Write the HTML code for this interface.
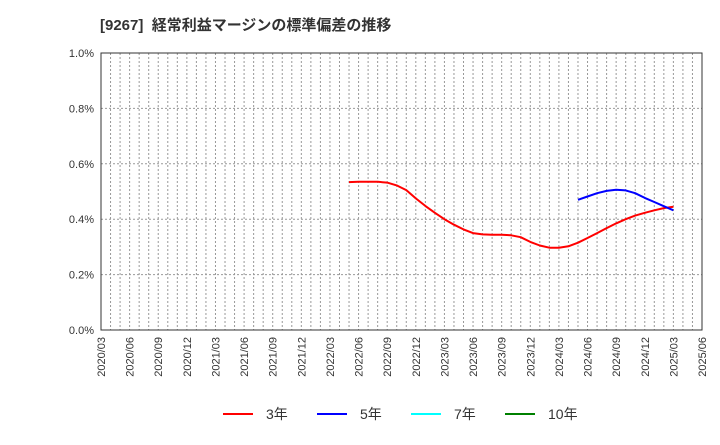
<!DOCTYPE html>
<html><head><meta charset="utf-8"><style>
body{margin:0;background:#fff;font-family:"Liberation Sans","Noto Sans CJK JP",sans-serif;}
</style></head><body>
<svg width="720" height="440" xmlns="http://www.w3.org/2000/svg" font-family="Liberation Sans, Noto Sans CJK JP, sans-serif">
<text x="100" y="30" font-size="15" font-weight="bold" fill="#333">[9267]&#160;&#160;経常利益マージンの標準偏差の推移</text>
<g id="grid"></g>
<g id="series"></g>
<g id="axes"></g>
<g id="legend"></g>
</svg>
<script>
const xLabels=["2020/03","2020/06","2020/09","2020/12","2021/03","2021/06","2021/09","2021/12","2022/03","2022/06","2022/09","2022/12","2023/03","2023/06","2023/09","2023/12","2024/03","2024/06","2024/09","2024/12","2025/03","2025/06"];
const yTicks=[0,0.2,0.4,0.6,0.8,1.0];
const red3Start=26; // months from 2020/03 (2022/05)
const red3=[0.534,0.535,0.535,0.535,0.532,0.522,0.505,0.475,0.448,0.423,0.400,0.380,0.363,0.350,0.345,0.344,0.344,0.342,0.335,0.318,0.305,0.297,0.297,0.302,0.315,0.332,0.350,0.368,0.385,0.400,0.413,0.423,0.432,0.440,0.445];
const blue5Start=50; // 2024/05
const blue5=[0.470,0.482,0.494,0.502,0.506,0.504,0.494,0.477,0.462,0.447,0.432];
const L=101,R=702,T=53,B=330,months=63;
const x=m=>L+(R-L)*m/months;
const y=v=>B-(B-T)*v/1.0;
const NS="http://www.w3.org/2000/svg";
function mk(tag,attrs,parent){const e=document.createElementNS(NS,tag);for(const k in attrs)e.setAttribute(k,attrs[k]);document.getElementById(parent).appendChild(e);return e;}
for(let m=1;m<months;m++){const l=mk('line',{x1:x(m),x2:x(m),y1:T,y2:B,stroke:'#999','stroke-dasharray':'2,2','stroke-width':1},'grid');

}
yTicks.forEach(v=>{if(v>0&&v<1){const l=mk('line',{x1:L,x2:R,y1:y(v),y2:y(v),stroke:'#999','stroke-dasharray':'2,2','stroke-width':1},'grid');

}
const t=mk('text',{x:L-7,y:y(v)+4,'text-anchor':'end','font-size':11,fill:'#333'},'axes');t.textContent=v.toFixed(1)+'%';

});
const fr=mk('rect',{x:L,y:T,width:R-L,height:B-T,fill:'none',stroke:'#333','stroke-width':1},'axes');


xLabels.forEach((s,i)=>{const xx=x(i*3);const t=mk('text',{x:0,y:0,transform:`translate(${xx+4},${337}) rotate(-90)`,'text-anchor':'end','font-size':11,fill:'#333'},'axes');t.textContent=s;

});
function line(arr,start,color,name){const d=arr.map((v,i)=>(i?'L':'M')+x(start+i).toFixed(1)+','+y(v).toFixed(1)).join('');
const p=mk('path',{d:d,fill:'none',stroke:color,'stroke-width':2,'stroke-linejoin':'round'},'series');

}
line(red3,red3Start,'#ff0000','series-3y');
line(blue5,blue5Start,'#0000ff','series-5y');
const leg=[["3年","#ff0000",223],["5年","#0000ff",317],["7年","#00ffff",411],["10年","#008000",505]];
leg.forEach(([lab,c,lx])=>{const l=mk('line',{x1:lx,x2:lx+30,y1:414,y2:414,stroke:c,'stroke-width':2},'legend');


const t=mk('text',{x:lx+43,y:419,'font-size':14,fill:'#333'},'legend');t.textContent=lab;

});
</script>
</body></html>
